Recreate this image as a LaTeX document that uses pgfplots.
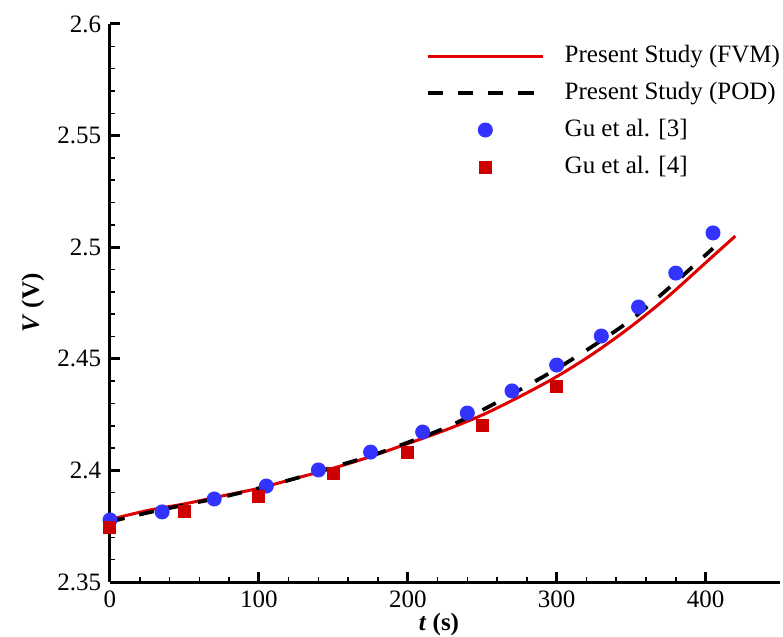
\documentclass[border=0pt]{standalone}
\usepackage{fontspec}
\setmainfont{Liberation Serif}
\usepackage{pgfplots}
\pgfplotsset{compat=1.18}
\definecolor{cblue}{RGB}{51,51,255}
\definecolor{cred}{RGB}{204,0,0}
\definecolor{lred}{RGB}{222,0,0}
\begin{document}
\begin{tikzpicture}[font=\rmfamily]
\begin{axis}[
  at={(0pt,0pt)}, anchor=south west,
  scale only axis, width=268pt, height=223.2pt,
  xmin=0, xmax=450, ymin=2.35, ymax=2.6,
  axis x line*=bottom, axis y line*=left,
  axis line style={line width=1.2pt, -},
  xtick={0,100,200,300,400},
  xticklabels={0,100,200,300,400},
  ytick={2.35,2.4,2.45,2.5,2.55,2.6},
  yticklabels={2.35,2.4,2.45,2.5,2.55,2.6},
  minor x tick num=4, minor y tick num=4,
  xtick align=inside, ytick align=inside,
  major tick length=4pt, minor tick length=2pt,
  every major tick/.style={line width=1.2pt, black},
  every minor tick/.style={line width=0.6pt, black},
  tick label style={font=\rmfamily\fontsize{10}{12}\selectfont},
  /pgf/number format/assume math mode=true,
  xlabel={\textbf{\textit{t} (s)}},
  ylabel={\textbf{\textit{V} (V)}},
  label style={font=\rmfamily\fontsize{10}{12}\selectfont},
  xlabel style={at={(axis description cs:0.491,-0.077)}, anchor=center},
  ylabel style={at={(axis description cs:-0.115,0.5)}, anchor=center},
  legend style={draw=none, fill=none, at={(1,1)}, anchor=north east, yshift=-8.3pt,
    inner sep=0pt, outer sep=0pt, row sep=5.8pt, column sep=0pt,
    font=\rmfamily\fontsize{10}{12}\selectfont,
    nodes={inner sep=0pt, text height=7pt, text depth=2pt},
    /tikz/every odd column/.append style={column sep=8pt}},
  legend cell align=left,
  legend image code/.code={\draw[mark repeat=2,mark phase=2,#1] plot coordinates {(0pt,0pt) (23pt,0pt) (46pt,0pt)};},
]
\addplot[lred, line width=1.2pt, smooth] table {
t V
0 2.3780
25 2.3820
50 2.3850
75 2.3885
100 2.3920
125 2.3965
150 2.4010
175 2.4062
200 2.4120
225 2.4180
250 2.4248
275 2.4330
300 2.4420
325 2.4525
350 2.4645
375 2.4780
400 2.4930
420 2.5050
};
\addlegendentry{Present Study (FVM)}
\addplot[black, line width=1.5pt, dash pattern=on 6pt off 6pt, smooth] table {
t V
0 2.3770
25 2.3810
50 2.3845
75 2.3880
100 2.3920
125 2.3965
150 2.4015
175 2.4065
200 2.4125
225 2.4190
250 2.4270
275 2.4360
300 2.4455
325 2.4560
350 2.4675
375 2.4815
405 2.4995
};
\addlegendentry{Present Study (POD)}
\addplot[only marks, mark=*, mark size=2.8pt, color=cblue, mark options={draw=cblue, fill=cblue}] table {
t V
0 2.3778
35 2.3814
70 2.3872
105 2.3930
140 2.4002
175 2.4082
210 2.4172
240 2.4257
270 2.4356
300 2.4472
330 2.4602
355 2.4732
380 2.4884
405 2.5064
};
\addlegendentry{Gu et al. [3]}
\addplot[only marks, mark=square*, mark size=2.4pt, color=cred, mark options={draw=cred, fill=cred}] table {
t V
0 2.3746
50 2.3814
100 2.3881
150 2.3984
200 2.4078
250 2.4203
300 2.4374
};
\addlegendentry{Gu et al. [4]}
\end{axis}
\pgfresetboundingbox
\path[use as bounding box] (-44pt,-21.6pt) rectangle (269.2pt,232.8pt);
\end{tikzpicture}
\end{document}
